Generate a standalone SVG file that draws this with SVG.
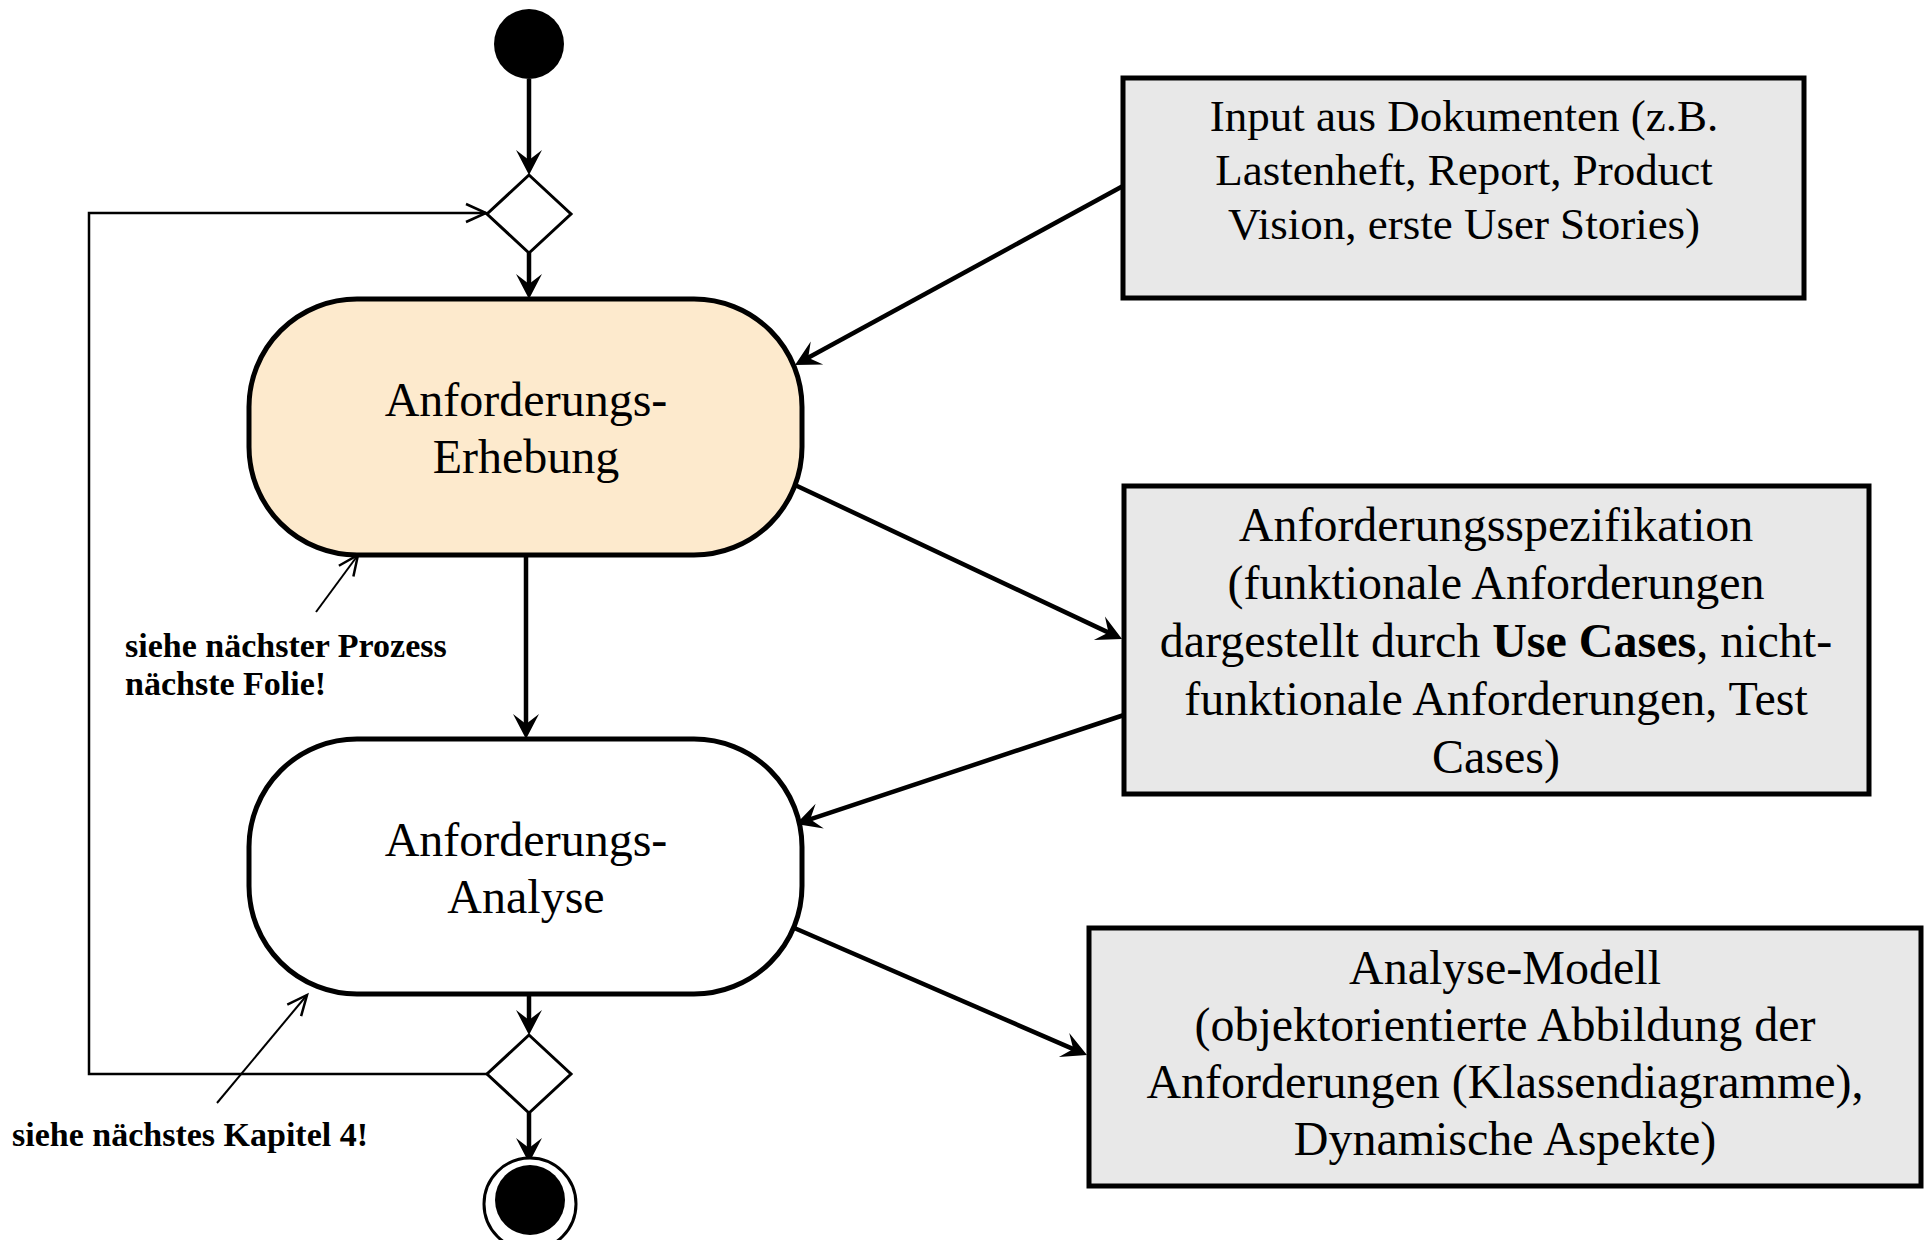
<svg xmlns="http://www.w3.org/2000/svg" width="1926" height="1240" viewBox="0 0 1926 1240">
  <style>
    .txt { font-family: "Liberation Serif", "Times New Roman", serif; fill: #000; }
    .proc { font-size: 48px; text-anchor: middle; }
    .box1 { font-size: 45px; text-anchor: middle; }
    .box { font-size: 48px; text-anchor: middle; }
    .note { font-size: 34px; font-weight: bold; }
    .action { stroke: #000; stroke-width: 5; }
    .artifact { fill: #e8e8e8; stroke: #000; stroke-width: 5; }
    .decision { fill: #fff; stroke: #000; stroke-width: 3; }
    .flow { fill: none; stroke: #000; stroke-width: 4.5; }
    .thin { fill: none; stroke: #000; stroke-width: 2.5; }
    .hint { fill: none; stroke: #000; stroke-width: 2; }
  </style>
  <defs>
    <marker id="stealth" markerUnits="userSpaceOnUse" markerWidth="40" markerHeight="40" viewBox="-30 -20 40 40" refX="0" refY="0" orient="auto">
      <path d="M6,0 L-19,-13 L-9,0 L-19,13 Z" fill="#000"/>
    </marker>
    <marker id="open" markerUnits="userSpaceOnUse" markerWidth="40" markerHeight="40" viewBox="-30 -20 40 40" refX="0" refY="0" orient="auto">
      <path d="M-20,-9 L0,0 L-20,9" fill="none" stroke="#000" stroke-width="2.5"/>
    </marker>
  </defs>

  <!-- control flow and object flow -->
  <g id="connectors">
    <path class="flow" d="M529,79 L529,169" marker-end="url(#stealth)"/>
    <path class="flow" d="M529,253 L529,293" marker-end="url(#stealth)"/>
    <path class="flow" d="M526,555 L526,733" marker-end="url(#stealth)"/>
    <path class="flow" d="M529,994 L529,1029" marker-end="url(#stealth)"/>
    <path class="flow" d="M529,1113 L529,1157" marker-end="url(#stealth)"/>
    <path class="thin" d="M487,1074 L89,1074 L89,213 L486,213" marker-end="url(#open)"/>
    <path class="flow" d="M1123,186 L800.3,362.1" marker-end="url(#stealth)"/>
    <path class="flow" d="M795,485 L1116.6,636.4" marker-end="url(#stealth)"/>
    <path class="flow" d="M1124,715 L801.7,822.1" marker-end="url(#stealth)"/>
    <path class="flow" d="M792,927 L1081.5,1052.6" marker-end="url(#stealth)"/>
    <path class="hint" d="M316,612 L358,555" marker-end="url(#open)"/>
    <path class="hint" d="M217,1103 L307,995" marker-end="url(#open)"/>
  </g>

  <g id="start">
    <circle cx="529" cy="44" r="35" fill="#000"/>
  </g>

  <g id="merge">
    <polygon class="decision" points="529,175 571,214 529,253 487,214"/>
  </g>

  <g id="erhebung">
    <rect class="action" x="249" y="299" width="553" height="256" rx="108" ry="108" fill="#fdeacd"/>
    <text class="txt proc" x="526" y="416">Anforderungs-</text>
    <text class="txt proc" x="526" y="473">Erhebung</text>
  </g>

  <g id="analyse">
    <rect class="action" x="249" y="739" width="553" height="255" rx="108" ry="108" fill="#fff"/>
    <text class="txt proc" x="526" y="856">Anforderungs-</text>
    <text class="txt proc" x="526" y="913">Analyse</text>
  </g>

  <g id="decision">
    <polygon class="decision" points="529,1035 571,1074 529,1113 487,1074"/>
  </g>

  <g id="end">
    <circle cx="530" cy="1204" r="46" fill="#fff" stroke="#000" stroke-width="3"/>
    <circle cx="530" cy="1200" r="35" fill="#000"/>
  </g>

  <g id="input-docs">
    <rect class="artifact" x="1123" y="78" width="681" height="220"/>
    <text class="txt box1" x="1464" y="131">Input aus Dokumenten (z.B.</text>
    <text class="txt box1" x="1464" y="185">Lastenheft, Report, Product</text>
    <text class="txt box1" x="1464" y="239">Vision, erste User Stories)</text>
  </g>

  <g id="spezifikation">
    <rect class="artifact" x="1124" y="486" width="745" height="308"/>
    <text class="txt box" x="1496" y="541">Anforderungsspezifikation</text>
    <text class="txt box" x="1496" y="599">(funktionale Anforderungen</text>
    <text class="txt box" x="1496" y="657">dargestellt durch <tspan font-weight="bold">Use Cases</tspan>, nicht-</text>
    <text class="txt box" x="1496" y="715">funktionale Anforderungen, Test</text>
    <text class="txt box" x="1496" y="773">Cases)</text>
  </g>

  <g id="analyse-modell">
    <rect class="artifact" x="1089" y="928" width="832" height="258"/>
    <text class="txt box" x="1505" y="984">Analyse-Modell</text>
    <text class="txt box" x="1505" y="1041">(objektorientierte Abbildung der</text>
    <text class="txt box" x="1505" y="1098">Anforderungen (Klassendiagramme),</text>
    <text class="txt box" x="1505" y="1155">Dynamische Aspekte)</text>
  </g>

  <g id="note-prozess">
    <text class="txt note" x="125" y="657">siehe nächster Prozess</text>
    <text class="txt note" x="125" y="695">nächste Folie!</text>
  </g>

  <g id="note-kapitel">
    <text class="txt note" x="12" y="1146">siehe nächstes Kapitel 4!</text>
  </g>
</svg>
